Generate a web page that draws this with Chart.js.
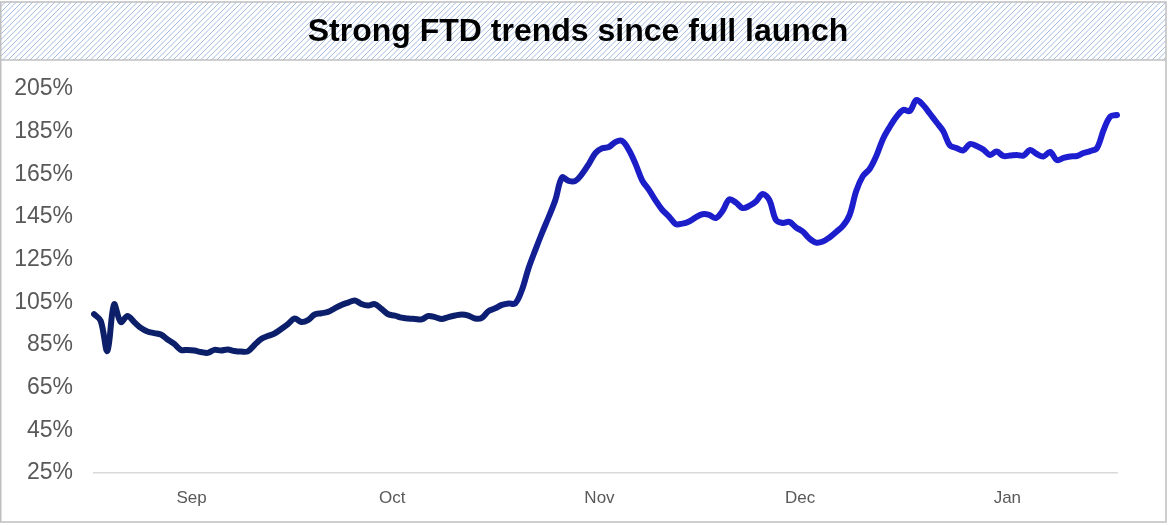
<!DOCTYPE html>
<html>
<head>
<meta charset="utf-8">
<title>Strong FTD trends since full launch</title>
<script src="https://cdn.jsdelivr.net/npm/chart.js@4/dist/chart.umd.min.js"></script>
<style>
  html, body { margin: 0; padding: 0; background: #ffffff; }
  #wrap { width: 1168px; height: 525px; }
</style>
</head>
<body>
<div id="wrap"><canvas id="ftd" width="1168" height="525"></canvas></div>
<script>
// Daily FTD index (% of pre-launch baseline), starting 18 Aug
const startDate = [2021, 7, 18]; // year, month (0-based), day
const ftdIndex = [
  99.5, 96.3, 82.2, 104.0, 95.8, 98.6, 95.8, 93.0, 91.3, 90.6,
  89.9, 87.6, 85.5, 82.7, 82.7, 82.4, 81.7, 81.3, 82.7, 82.4,
  82.9, 82.2, 81.9, 82.0, 85.0, 87.8, 89.2, 90.4, 92.5, 94.8,
  97.4, 95.8, 96.7, 99.3, 99.9, 100.5, 102.2, 103.8, 104.9, 105.9,
  104.2, 103.5, 104.2, 101.9, 99.4, 98.8, 97.8, 97.4, 97.2, 97.0,
  98.6, 98.1, 97.2, 98.1, 98.8, 99.3, 98.8, 97.4, 97.7, 100.9,
  102.2, 103.8, 104.5, 104.5, 110.8, 121.1, 129.5, 137.5, 145.0, 153.0,
  163.5, 161.9, 161.9, 165.2, 169.8, 175.0, 177.2, 177.8, 180.2, 180.6,
  176.4, 169.8, 162.1, 157.7, 152.7, 148.3, 145.2, 141.7, 141.9, 142.9,
  144.8, 146.3, 146.0, 144.5, 147.8, 153.2, 151.8, 149.2, 150.2, 152.3,
  155.8, 153.0, 143.6, 142.2, 142.7, 140.1, 138.2, 134.9, 133.0, 133.5,
  135.4, 138.0, 140.8, 145.9, 157.2, 164.2, 167.5, 173.6, 181.6, 187.2,
  191.9, 195.2, 194.7, 199.8, 197.5, 193.5, 189.4, 185.3, 178.6, 177.3,
  176.2, 179.2, 178.3, 176.6, 174.1, 175.7, 173.6, 173.8, 174.1, 173.8,
  176.4, 174.5, 173.4, 175.5, 171.7, 172.7, 173.4, 173.6, 175.0, 175.9,
  177.3, 185.8, 192.1, 192.8
];
const monthNames = ['Jan', 'Feb', 'Mar', 'Apr', 'May', 'Jun', 'Jul', 'Aug', 'Sep', 'Oct', 'Nov', 'Dec'];
const shownMonths = ['Sep', 'Oct', 'Nov', 'Dec', 'Jan'];
const yTicks = [25, 45, 65, 85, 105, 125, 145, 165, 185, 205];
const titleText = 'Strong FTD trends since full launch';

// one category per day
const days = ftdIndex.map((_, i) => new Date(Date.UTC(startDate[0], startDate[1], startDate[2] + i)));
const dayLabels = days.map(d => d.toISOString().slice(0, 10));

const FONT = '"Liberation Sans", Arial, Helvetica, sans-serif';
const GREY_TEXT = '#595959';

// frame, hatched title band and title text
const framePlugin = {
  id: 'frame',
  beforeDraw(chart) {
    const c = chart.ctx;
    const W = chart.width;
    const bandTop = 2, bandBottom = 60, right = 1166, bottom = 522;
    c.save();
    c.fillStyle = '#ffffff';
    c.fillRect(0, 0, W, chart.height);

    // diagonal hatch in the title band
    c.save();
    c.beginPath();
    c.rect(0, bandTop, right, bandBottom - bandTop);
    c.clip();
    c.strokeStyle = '#a4bce2';
    c.lineWidth = 1;
    const h = bandBottom - bandTop;
    for (let x = -h; x < right + 10; x += 5.5) {
      c.beginPath();
      c.moveTo(x, bandBottom);
      c.lineTo(x + h, bandTop);
      c.stroke();
    }
    c.restore();

    // borders
    c.strokeStyle = '#bfbfbf';
    c.lineWidth = 1.5;
    c.strokeRect(0.75, bandTop, right - 0.75, bottom - bandTop);
    c.beginPath();
    c.moveTo(0, bandBottom);
    c.lineTo(right, bandBottom);
    c.stroke();

    // title
    c.fillStyle = '#000000';
    c.font = 'bold 32px ' + FONT;
    c.textAlign = 'center';
    c.textBaseline = 'middle';
    c.fillText(titleText, 578, 32);
    c.restore();
  }
};

function lineGradient(context) {
  const chart = context.chart;
  const area = chart.chartArea;
  if (!area) return '#1c1fcc';
  const g = chart.ctx.createLinearGradient(area.left, 0, area.right, 0);
  g.addColorStop(0, '#0c1f68');
  g.addColorStop(0.37, '#0c1f6c');
  g.addColorStop(0.52, '#1b1ec8');
  g.addColorStop(1, '#1e1ed2');
  return g;
}

new Chart(document.getElementById('ftd'), {
  type: 'line',
  data: {
    labels: dayLabels,
    datasets: [{
      data: ftdIndex,
      borderColor: lineGradient,
      borderWidth: 6,
      pointRadius: 0,
      tension: 0.35,
      borderCapStyle: 'round',
      borderJoinStyle: 'round',
      fill: false
    }]
  },
  options: {
    responsive: false,
    animation: false,
    devicePixelRatio: 1,
    layout: { padding: { top: 89, left: 0, right: 51, bottom: 0 } },
    plugins: {
      legend: { display: false },
      tooltip: { enabled: false },
      title: { display: false }
    },
    scales: {
      x: {
        type: 'category',
        offset: false,
        grid: { display: false, drawTicks: false },
        border: { display: true, color: '#d9d9d9', width: 1.5 },
        ticks: {
          autoSkip: false,
          maxRotation: 0,
          minRotation: 0,
          padding: 15,
          labelOffset: 4,
          color: GREY_TEXT,
          font: { family: FONT, size: 17 },
          callback(value) {
            const d = days[value];
            if (d.getUTCDate() !== 1) return '';
            const m = monthNames[d.getUTCMonth()];
            return shownMonths.includes(m) ? m : '';
          }
        },
        afterFit(scale) { scale.height = 52; }
      },
      y: {
        min: yTicks[0],
        max: yTicks[yTicks.length - 1],
        grid: { display: false, drawTicks: false },
        border: { display: false },
        afterBuildTicks(scale) { scale.ticks = yTicks.map(v => ({ value: v })); },
        ticks: {
          padding: 21,
          color: GREY_TEXT,
          font: { family: FONT, size: 23 },
          callback: v => v + '%'
        },
        afterFit(scale) { scale.width = 94; }
      }
    }
  },
  plugins: [framePlugin]
});
</script>
</body>
</html>
